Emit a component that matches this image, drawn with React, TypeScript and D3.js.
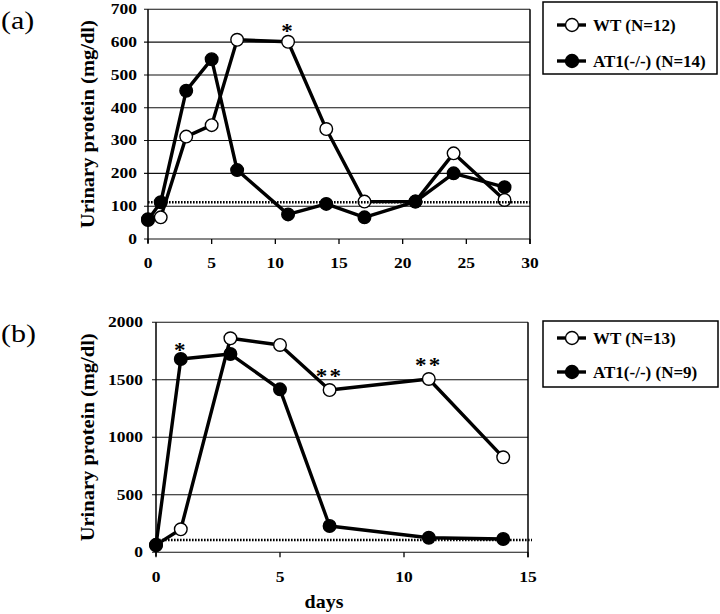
import React from "react";
import * as d3 from "d3";

// Panel (a)
const daysA = [0, 1, 3, 5, 7, 11, 14, 17, 21, 24, 28];
const wtA = [60, 66, 312, 347, 607, 601, 335, 114, 114, 261, 119];
const atA = [58, 112, 452, 548, 210, 75, 107, 66, 114, 200, 158];
const yTicksA = [0, 100, 200, 300, 400, 500, 600, 700];
const xTicksA = [0, 5, 10, 15, 20, 25, 30];
const baselineA = 112;
const starsA = [{ day: 11, label: "*", value: 652 }];

// Panel (b)
const daysB = [0, 1, 3, 5, 7, 11, 14];
const wtB = [65, 200, 1861, 1803, 1411, 1507, 826];
const atB = [61, 1681, 1724, 1417, 229, 127, 116];
const yTicksB = [0, 500, 1000, 1500, 2000];
const xTicksB = [0, 5, 10, 15];
const baselineB = 107;
const starsB = [
  { day: 1, label: "*", value: 1811 },
  { day: 7, label: "**", value: 1586 },
  { day: 11, label: "**", value: 1681 },
];

const legendA = ["WT (N=12)", "AT1(-/-) (N=14)"];
const legendB = ["WT (N=13)", "AT1(-/-) (N=9)"];

const FONT = "'Liberation Serif', 'Times New Roman', serif";

function SText(props: { x: number; y: number; sx: number; size: number; anchor?: string; bold?: boolean; dy?: string; children: React.ReactNode; ls?: number }) {
  return (
    <text transform={`translate(${props.x},${props.y}) scale(${props.sx},1)`} dy={props.dy || "0"}
      textAnchor={props.anchor || "start"} fontFamily={FONT} fontWeight={props.bold === false ? "normal" : "bold"}
      fontSize={props.size} letterSpacing={props.ls || 0}>
      {props.children}
    </text>
  );
}

type PanelProps = {
  left: number; right: number; top: number; bottom: number;
  xMax: number; yMax: number;
  days: number[]; wt: number[]; at: number[];
  yTicks: number[]; xTicks: number[]; baseline: number;
  stars: { day: number; label: string; value: number }[];
  baselineExtend: number;
  rightTickExtend: number;
  tagLabel: string; tagY: number;
  legend: string[]; legendBox: { x: number; y: number; w: number; h: number }; legendRows: number[];
  showDays: boolean;
  yLabelOffset: number;
  xLabelOffset: number;
};

function Panel(p: PanelProps) {
  const x = d3.scaleLinear().domain([0, p.xMax]).range([p.left, p.right]);
  const y = d3.scaleLinear().domain([0, p.yMax]).range([p.bottom, p.top]);
  const line = d3.line<number>().x((_, i) => x(p.days[i])).y((v) => y(v));
  const series = [
    { vals: p.wt, fill: "#fff" },
    { vals: p.at, fill: "#000" },
  ];
  return (
    <g>
      {/* gridlines */}
      {p.yTicks.map((t) => (
        <line key={"g" + t} x1={p.left - 4} x2={p.right} y1={y(t)} y2={y(t)} stroke="#111" strokeWidth={1.1} />
      ))}
      {/* y tick labels */}
      {p.yTicks.map((t) => (
        <SText key={"yl" + t} x={p.left - p.yLabelOffset} y={y(t)} dy="0.34em" anchor="end" sx={1.25} size={14}>{t}</SText>
      ))}
      {/* axes */}
      <line x1={p.left} x2={p.left} y1={p.top} y2={p.bottom + 4} stroke="#000" strokeWidth={1.5} />
      <line x1={p.right} x2={p.right} y1={p.top} y2={p.bottom + p.rightTickExtend} stroke="#000" strokeWidth={1.5} />
      {p.xTicks.map((t) => (
        <g key={"xt" + t}>
          <line x1={x(t)} x2={x(t)} y1={p.bottom} y2={p.bottom + 5} stroke="#000" strokeWidth={1.3} />
          <SText x={x(t)} y={p.bottom + p.xLabelOffset} anchor="middle" sx={1.25} size={14}>{t}</SText>
        </g>
      ))}
      {/* y label */}
      <text transform={`translate(${94},${(p.top + p.bottom) / 2}) rotate(-90)`} textAnchor="middle"
        fontFamily={FONT} fontWeight="bold" fontSize={18} textLength={208} lengthAdjust="spacingAndGlyphs">
        Urinary protein (mg/dl)
      </text>
      {/* series */}
      {series.map((s, si) => (
        <g key={"s" + si}>
          <path d={line(s.vals) || ""} fill="none" stroke="#000" strokeWidth={3.4} strokeLinejoin="round" />
          {s.vals.map((v, i) => (
            <circle key={i} cx={x(p.days[i])} cy={y(v)} r={6.3} fill={s.fill} stroke="#000" strokeWidth={1.4} />
          ))}
        </g>
      ))}
      {/* baseline dotted */}
      <line x1={p.left} x2={p.right + p.baselineExtend} y1={y(p.baseline)} y2={y(p.baseline)}
        stroke="#000" strokeWidth={2.6} strokeDasharray="1.6,1.4" />
      {/* stars */}
      {p.stars.map((s, i) => (
        <SText key={"st" + i} x={x(s.day)} y={y(s.value)} dy="0.62em" anchor="middle" sx={1.1} size={21} ls={2}>{s.label}</SText>
      ))}
      {/* panel tag */}
      <SText x={1} y={p.tagY} dy="0.35em" sx={1.2} size={25} bold={false}>{p.tagLabel}</SText>
      {/* legend */}
      <rect x={p.legendBox.x} y={p.legendBox.y} width={p.legendBox.w} height={p.legendBox.h}
        fill="#fff" stroke="#000" strokeWidth={1.5} />
      {p.legend.map((lab, i) => (
        <g key={"lg" + i}>
          <line x1={557} x2={586} y1={p.legendRows[i]} y2={p.legendRows[i]} stroke="#000" strokeWidth={3.4} />
          <circle cx={572} cy={p.legendRows[i]} r={6.5} fill={series[i].fill} stroke="#000" strokeWidth={1.4} />
          <SText x={593} y={p.legendRows[i]} dy="0.35em" sx={1.0} size={17}>{lab}</SText>
        </g>
      ))}
      {p.showDays && (
        <SText x={324} y={602} dy="0.3em" anchor="middle" sx={1.05} size={19}>days</SText>
      )}
    </g>
  );
}

export default function App() {
  return (
    <svg width={720} height={614} style={{ position: "absolute", left: 0, top: 0, background: "#fff" }}>
      <rect width={720} height={614} fill="#fff" />
      <Panel left={148} right={530} top={9.3} bottom={239} xMax={30} yMax={700}
        days={daysA} wt={wtA} at={atA} yTicks={yTicksA} xTicks={xTicksA} baseline={baselineA}
        stars={starsA} baselineExtend={0} rightTickExtend={5} tagLabel="(a)" tagY={20}
        legend={legendA} legendBox={{ x: 543, y: 2, w: 174, h: 72 }} legendRows={[25, 61]}
        showDays={false} yLabelOffset={11} xLabelOffset={28.5} />
      <Panel left={156} right={528} top={322.3} bottom={552.3} xMax={15} yMax={2000}
        days={daysB} wt={wtB} at={atB} yTicks={yTicksB} xTicks={xTicksB} baseline={baselineB}
        stars={starsB} baselineExtend={4} rightTickExtend={5} tagLabel="(b)" tagY={333}
        legend={legendB} legendBox={{ x: 543, y: 321, w: 175, h: 66 }} legendRows={[338, 372]}
        showDays={true} yLabelOffset={13} xLabelOffset={29.5} />
    </svg>
  );
}
